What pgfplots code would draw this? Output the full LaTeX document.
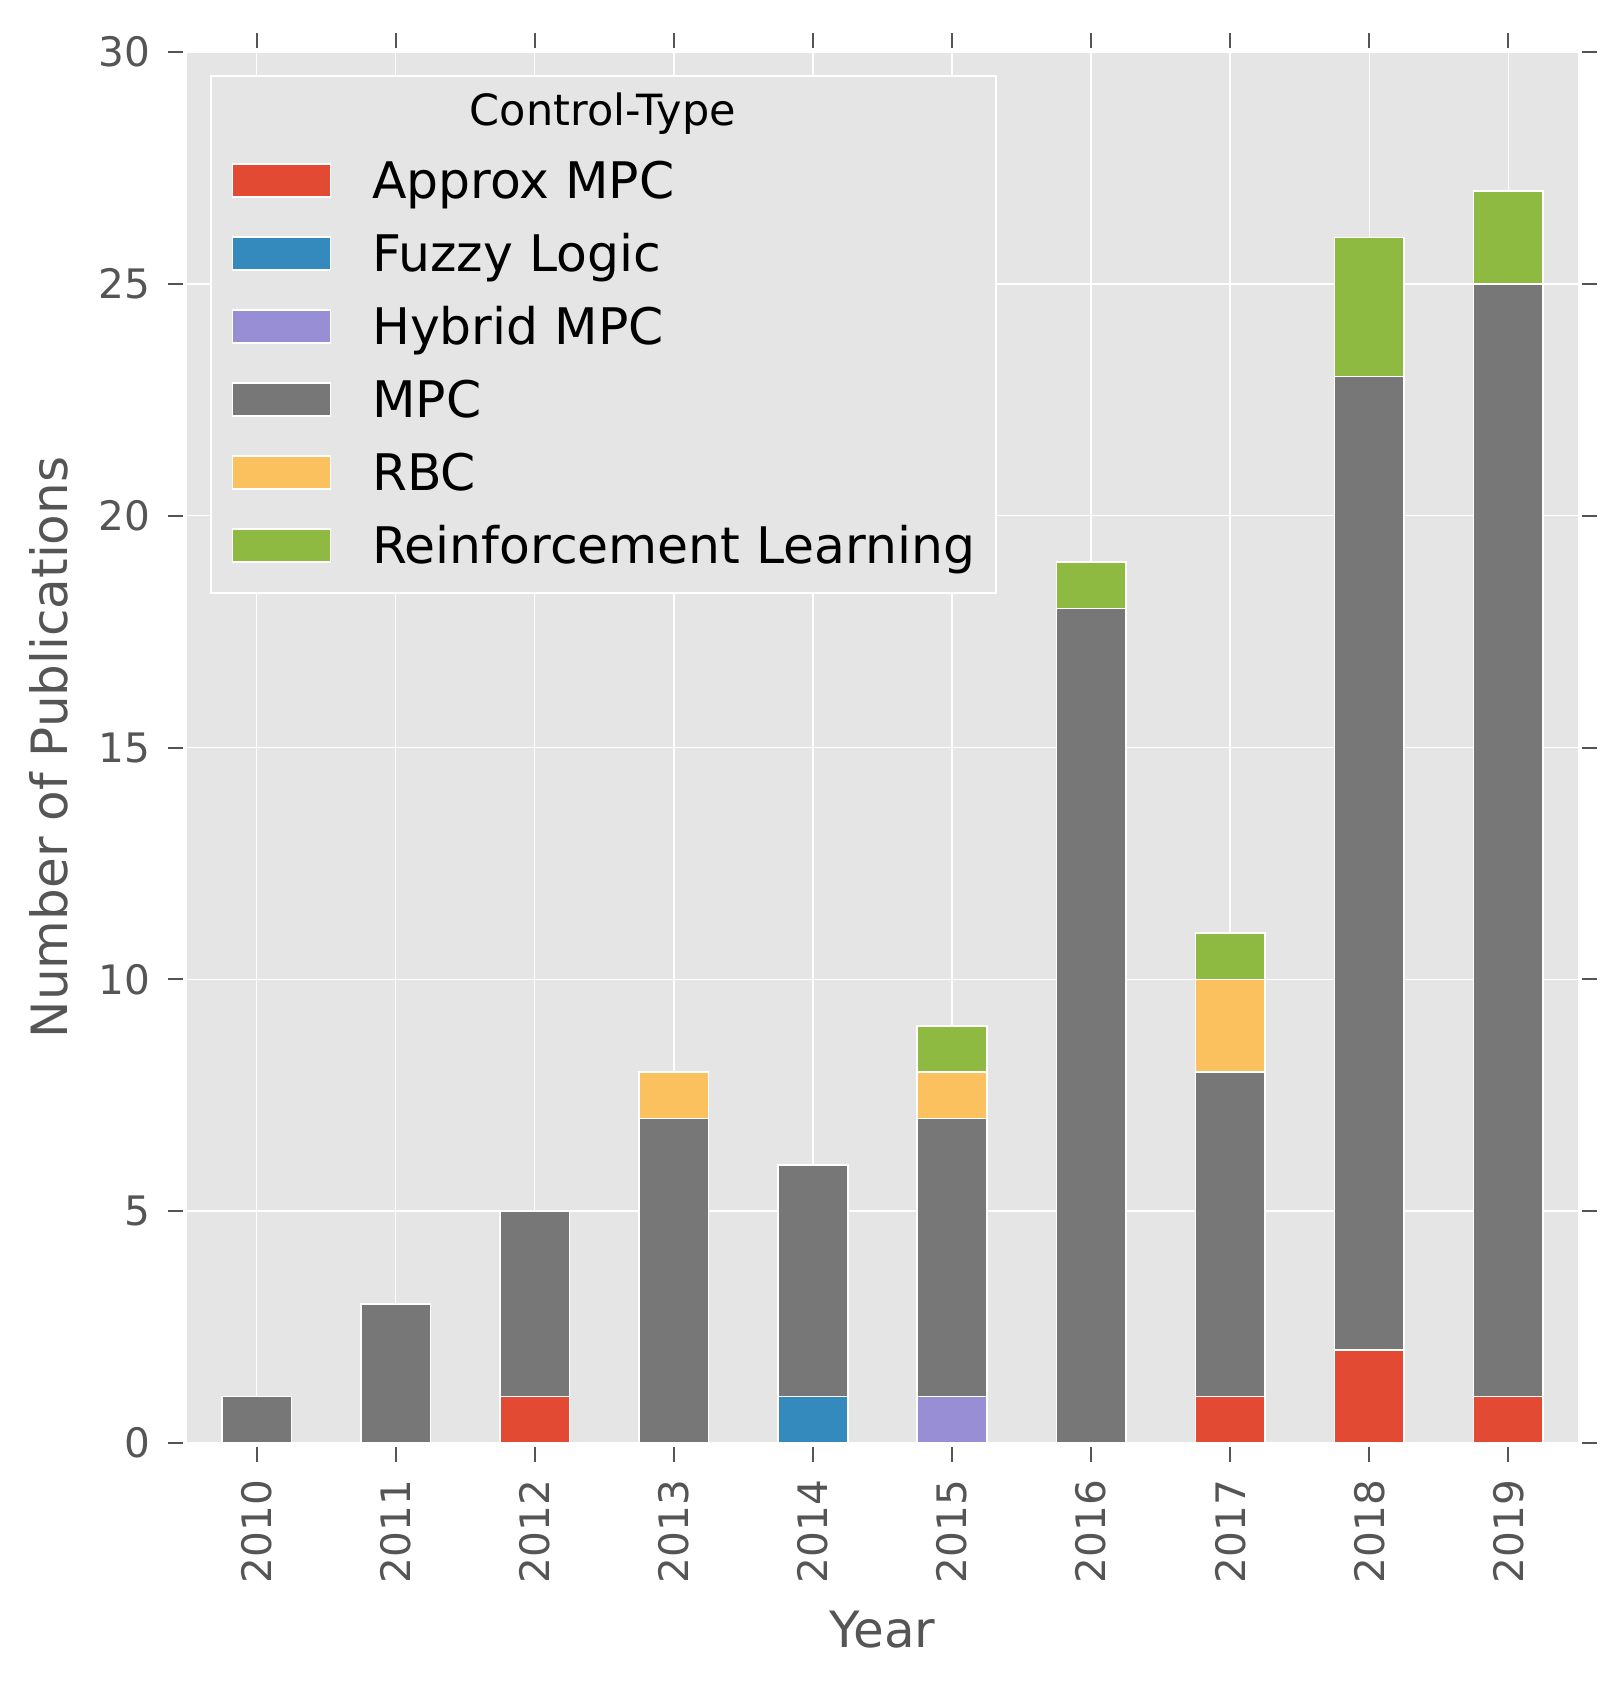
\documentclass[border=0pt]{standalone}
\usepackage{pgfplots}
\pgfplotsset{compat=1.18}
\usepackage{fontspec}
\setmainfont{DejaVu Sans}
\definecolor{bg}{HTML}{E5E5E5}
\definecolor{tk}{HTML}{555555}
\definecolor{cA}{HTML}{E24A33}
\definecolor{cF}{HTML}{348ABD}
\definecolor{cH}{HTML}{988ED5}
\definecolor{cM}{HTML}{777777}
\definecolor{cR}{HTML}{FBC15E}
\definecolor{cL}{HTML}{8EBA42}
\pgfplotsset{sw/.style={legend image code/.code={\draw[##1] (0pt,0.85pt) rectangle (49pt,17.35pt);}}}
\begin{document}
\begin{tikzpicture}
\path[use as bounding box] (-93.5pt,-120pt) rectangle (713.5pt,721.5pt);
\begin{axis}[name=ax, scale only axis, width=695.5pt, height=695.5pt,
  ybar stacked, bar width=0.5,
  xmin=-0.5, xmax=9.5, ymin=0, ymax=30,
  xtick={0,1,2,3,4,5,6,7,8,9},
  xticklabels={2010,2011,2012,2013,2014,2015,2016,2017,2018,2019},
  ytick={0,5,10,15,20,25,30},
  tick align=outside, major tick length=9.5pt,
  every tick/.style={tk, line width=1pt},
  axis background/.style={fill=bg},
  axis line style={draw=none},
  grid=major, major grid style={white, line width=0.75pt},
  /pgf/number format/assume math mode=true,
  ticklabel style={font=\fontsize{20.3}{24}\selectfont, text=tk},
  xticklabel style={rotate=90, anchor=east, inner sep=0pt},
  yticklabel style={anchor=east, inner sep=0pt},
  xticklabel shift=8.75pt, yticklabel shift=8.5pt,
  xlabel={Year}, ylabel={Number of Publications},
  label style={font=\fontsize{25}{30}\selectfont, text=tk},
  xlabel style={at={(axis description cs:0.5,-0.1467)}, anchor=base},
  ylabel style={at={(axis description cs:-0.0856,0.5)}, anchor=base},
  legend style={at={(0.0162,0.9835)}, anchor=north west, fill=bg, draw=white, line width=1pt,
    inner xsep=10.5pt, inner ysep=4pt, row sep=12.5pt, column sep=20.5pt,
    font=\fontsize{25.2}{30}\selectfont, text=black,
    nodes={inner sep=0pt, text height=21pt, text depth=3pt},
    cells={anchor=base west}},
]
\addlegendimage{empty legend}
\addlegendentry{\hspace*{48.9pt}\fontsize{21.5}{25}\selectfont Control-Type}
\addplot[fill=cA, draw=white, line width=0.8pt, sw] coordinates {(0,0) (1,0) (2,1) (3,0) (4,0) (5,0) (6,0) (7,1) (8,2) (9,1)};
\addlegendentry{Approx MPC}
\addplot[fill=cF, draw=white, line width=0.8pt, sw] coordinates {(0,0) (1,0) (2,0) (3,0) (4,1) (5,0) (6,0) (7,0) (8,0) (9,0)};
\addlegendentry{Fuzzy Logic}
\addplot[fill=cH, draw=white, line width=0.8pt, sw] coordinates {(0,0) (1,0) (2,0) (3,0) (4,0) (5,1) (6,0) (7,0) (8,0) (9,0)};
\addlegendentry{Hybrid MPC}
\addplot[fill=cM, draw=white, line width=0.8pt, sw] coordinates {(0,1) (1,3) (2,4) (3,7) (4,5) (5,6) (6,18) (7,7) (8,21) (9,24)};
\addlegendentry{MPC}
\addplot[fill=cR, draw=white, line width=0.8pt, sw] coordinates {(0,0) (1,0) (2,0) (3,1) (4,0) (5,1) (6,0) (7,2) (8,0) (9,0)};
\addlegendentry{RBC}
\addplot[fill=cL, draw=white, line width=0.8pt, sw] coordinates {(0,0) (1,0) (2,0) (3,0) (4,0) (5,1) (6,1) (7,1) (8,3) (9,2)};
\addlegendentry[text depth=10.5pt]{Reinforcement Learning}
\end{axis}
\draw[white, line width=2pt] ([shift={(-1pt,-1pt)}]ax.south west) rectangle ([shift={(1pt,1pt)}]ax.north east);
\end{tikzpicture}
\end{document}
